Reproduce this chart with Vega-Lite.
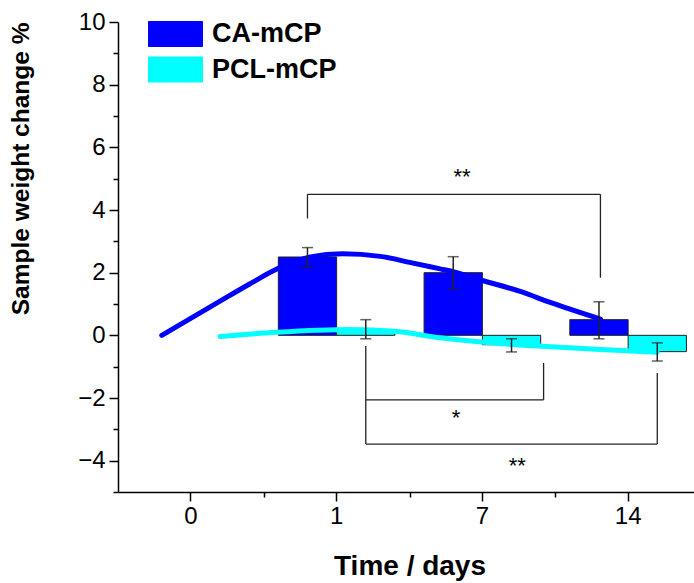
{
  "$schema": "https://vega.github.io/schema/vega-lite/v6.json",
  "width": 583,
  "height": 470,
  "autosize": {"type": "none"},
  "padding": {"left": 118, "top": 22, "right": 0, "bottom": 91},
  "background": "white",
  "config": {
    "view": {"stroke": null},
    "font": "Liberation Sans",
    "axis": {
      "grid": false,
      "labelFont": "Liberation Sans",
      "titleFont": "Liberation Sans",
      "labelColor": "black",
      "titleColor": "black",
      "domainColor": "black",
      "tickColor": "black",
      "domainWidth": 1.5,
      "tickWidth": 1.5
    }
  },
  "datasets": {
    "bars": [
      {"day": "1", "series": "CA-mCP", "value": 2.5, "lo": 2.19, "hi": 2.8},
      {"day": "7", "series": "CA-mCP", "value": 2.0, "lo": 1.49, "hi": 2.51},
      {"day": "14", "series": "CA-mCP", "value": 0.5, "lo": -0.11, "hi": 1.07},
      {"day": "1", "series": "PCL-mCP", "value": 0.17, "lo": -0.11, "hi": 0.5},
      {"day": "7", "series": "PCL-mCP", "value": -0.3, "lo": -0.53, "hi": -0.11},
      {"day": "14", "series": "PCL-mCP", "value": -0.52, "lo": -0.82, "hi": -0.24}
    ],
    "curves": [
      {"series": "CA-mCP", "x": -0.2, "y": 0.0},
      {"series": "CA-mCP", "x": 0.2, "y": 1.09},
      {"series": "CA-mCP", "x": 0.4, "y": 1.63},
      {"series": "CA-mCP", "x": 0.6, "y": 2.14},
      {"series": "CA-mCP", "x": 0.82, "y": 2.5},
      {"series": "CA-mCP", "x": 1.04, "y": 2.6},
      {"series": "CA-mCP", "x": 1.3, "y": 2.52},
      {"series": "CA-mCP", "x": 1.5, "y": 2.33},
      {"series": "CA-mCP", "x": 1.71, "y": 2.12},
      {"series": "CA-mCP", "x": 1.8, "y": 2.03},
      {"series": "CA-mCP", "x": 2.0, "y": 1.75},
      {"series": "CA-mCP", "x": 2.26, "y": 1.4},
      {"series": "CA-mCP", "x": 2.46, "y": 1.06},
      {"series": "CA-mCP", "x": 2.81, "y": 0.52},
      {"series": "PCL-mCP", "x": 0.2, "y": -0.04},
      {"series": "PCL-mCP", "x": 0.59, "y": 0.1},
      {"series": "PCL-mCP", "x": 1.09, "y": 0.19},
      {"series": "PCL-mCP", "x": 1.4, "y": 0.13},
      {"series": "PCL-mCP", "x": 1.71, "y": -0.08},
      {"series": "PCL-mCP", "x": 2.05, "y": -0.24},
      {"series": "PCL-mCP", "x": 2.41, "y": -0.35},
      {"series": "PCL-mCP", "x": 2.81, "y": -0.45},
      {"series": "PCL-mCP", "x": 3.2, "y": -0.54}
    ],
    "brackets": [
      {"x": 0.8, "y": 3.73, "x2": 0.8, "y2": 4.5},
      {"x": 0.8, "y": 4.5, "x2": 2.81, "y2": 4.5},
      {"x": 2.81, "y": 4.5, "x2": 2.81, "y2": 1.84},
      {"x": 1.2, "y": -0.34, "x2": 1.2, "y2": -3.47},
      {"x": 1.2, "y": -2.06, "x2": 2.42, "y2": -2.06},
      {"x": 2.42, "y": -0.88, "x2": 2.42, "y2": -2.06},
      {"x": 1.2, "y": -3.47, "x2": 3.2, "y2": -3.47},
      {"x": 3.2, "y": -1.2, "x2": 3.2, "y2": -3.47}
    ],
    "marks": [
      {"label": "**", "x": 1.86, "y": 5.25},
      {"label": "*", "x": 1.82, "y": -2.45},
      {"label": "**", "x": 2.24, "y": -3.98}
    ]
  },
  "layer": [
    {
      "data": {"name": "bars"},
      "mark": {"type": "bar", "stroke": "#222222", "strokeWidth": 1},
      "encoding": {
        "x": {
          "field": "day",
          "type": "nominal",
          "sort": null,
          "scale": {"domain": ["0", "1", "7", "14"], "paddingInner": 0, "paddingOuter": 0},
          "axis": {
            "title": "Time / days",
            "labelAngle": 0,
            "tickSize": 9,
            "labelPadding": 3,
            "labelFontSize": 24,
            "titleFontSize": 28,
            "titleFontWeight": "bold",
            "titlePadding": 24
          }
        },
        "xOffset": {
          "field": "series",
          "type": "nominal",
          "scale": {"domain": ["CA-mCP", "PCL-mCP"], "paddingInner": 0, "paddingOuter": 0.25}
        },
        "y": {
          "field": "value",
          "type": "quantitative",
          "scale": {"domain": [-5, 10], "nice": false, "zero": false},
          "axis": {
            "title": "Sample weight change %",
            "titleAnchor": "end",
            "values": [-4, -2, 0, 2, 4, 6, 8, 10],
            "tickSize": 9,
            "labelPadding": 4,
            "labelFontSize": 24,
            "titleFontSize": 24.5,
            "titleFontWeight": "bold",
            "titlePadding": 44
          }
        },
        "y2": {"datum": 0},
        "color": {
          "field": "series",
          "type": "nominal",
          "scale": {"domain": ["CA-mCP", "PCL-mCP"], "range": ["#0000FF", "#00FFFF"]},
          "legend": {
            "orient": "none",
            "legendX": 43.5,
            "legendY": -2,
            "title": null,
            "padding": 0,
            "symbolType": "M-2,-0.926H2V0.926H-2Z",
            "symbolSize": 729,
            "symbolStrokeColor": "#222222",
            "symbolStrokeWidth": 1,
            "symbolOpacity": 1,
            "labelFont": "Liberation Sans",
            "labelFontSize": 27,
            "labelFontWeight": "bold",
            "labelColor": "black",
            "labelOffset": 22.5,
            "rowPadding": 5.5
          }
        }
      }
    },
    {
      "layer": [
        {
          "data": {"name": "curves"},
          "mark": {"type": "line", "interpolate": "monotone", "strokeWidth": 5, "strokeCap": "round"},
          "encoding": {
            "x": {
              "field": "x",
              "type": "quantitative",
              "scale": {"domain": [-0.5, 3.5], "nice": false, "zero": false},
              "axis": {
                "orient": "bottom",
                "values": [0.5, 1.5, 2.5, 3.5],
                "labels": false,
                "domain": false,
                "tickSize": 5,
                "title": null
              }
            },
            "y": {
              "field": "y",
              "type": "quantitative",
              "axis": {
                "orient": "left",
                "values": [-5, -3, -1, 1, 3, 5, 7, 9],
                "labels": false,
                "domain": false,
                "tickSize": 5,
                "title": null
              }
            },
            "color": {"field": "series", "type": "nominal", "legend": null},
            "detail": {"field": "series"}
          }
        },
        {
          "mark": {"type": "rule", "color": "black", "strokeWidth": 1.5},
          "encoding": {"y": {"datum": 0}}
        },
        {
          "data": {"name": "brackets"},
          "mark": {"type": "rule", "color": "#222222", "strokeWidth": 1.3},
          "encoding": {
            "x": {"field": "x", "type": "quantitative"},
            "x2": {"field": "x2"},
            "y": {"field": "y", "type": "quantitative"},
            "y2": {"field": "y2"}
          }
        },
        {
          "data": {"name": "marks"},
          "mark": {"type": "text", "fontSize": 22, "font": "Liberation Sans", "baseline": "alphabetic", "dy": 13, "color": "black"},
          "encoding": {
            "x": {"field": "x", "type": "quantitative"},
            "y": {"field": "y", "type": "quantitative"},
            "text": {"field": "label"}
          }
        }
      ]
    },
    {
      "data": {"name": "bars"},
      "layer": [
        {
          "mark": {"type": "rule", "color": "#222222", "strokeWidth": 1.5},
          "encoding": {
            "y": {"field": "lo", "type": "quantitative"},
            "y2": {"field": "hi"}
          }
        },
        {
          "mark": {"type": "tick", "color": "#222222", "thickness": 1.5, "size": 11},
          "encoding": {"y": {"field": "lo", "type": "quantitative"}}
        },
        {
          "mark": {"type": "tick", "color": "#222222", "thickness": 1.5, "size": 11},
          "encoding": {"y": {"field": "hi", "type": "quantitative"}}
        }
      ],
      "encoding": {
        "x": {
          "field": "day",
          "type": "nominal",
          "sort": null,
          "scale": {"domain": ["0", "1", "7", "14"], "paddingInner": 0, "paddingOuter": 0},
          "axis": null
        },
        "xOffset": {
          "field": "series",
          "type": "nominal",
          "scale": {"domain": ["CA-mCP", "PCL-mCP"], "paddingInner": 0, "paddingOuter": 0.25}
        },
        "y": {"type": "quantitative", "axis": null}
      }
    }
  ],
  "resolve": {
    "scale": {"x": "independent", "xOffset": "independent"},
    "axis": {"x": "independent", "y": "independent"}
  }
}
